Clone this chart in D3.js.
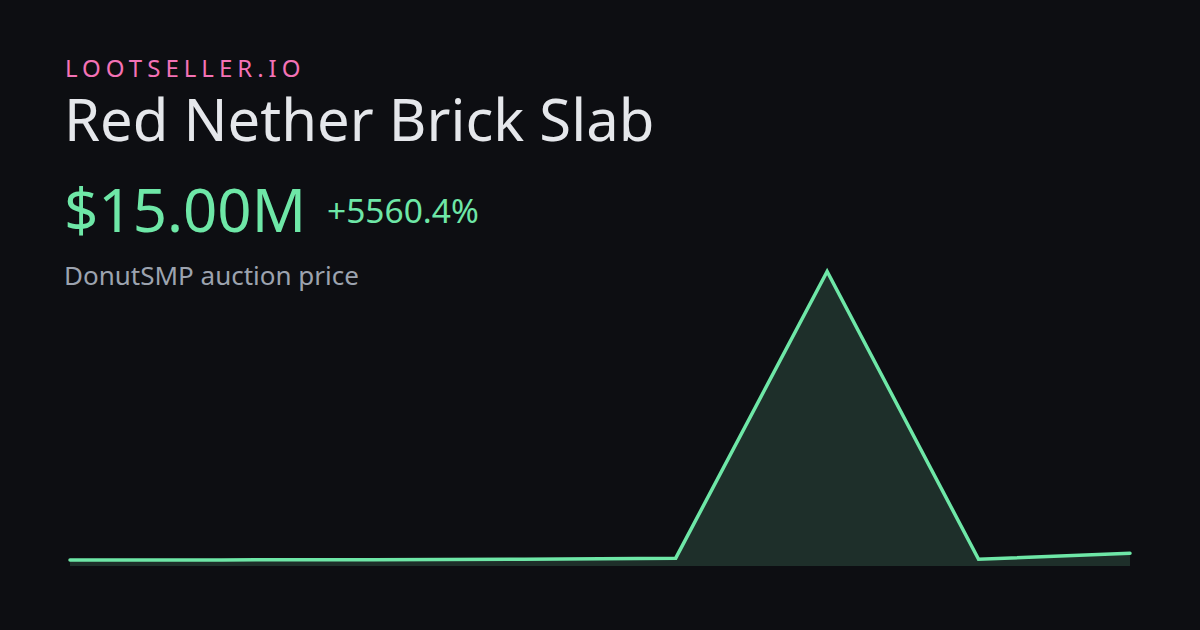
<!DOCTYPE html>
<html><head><meta charset="utf-8">
<script src="https://cdn.jsdelivr.net/npm/d3@7"></script>
<style>
html,body{margin:0;padding:0;background:#0d0e12;}
svg{display:block;}
</style></head>
<body>
<svg id="chart" width="1200" height="630"></svg>
<script>
const brand = "LOOTSELLER.IO";
const itemName = "Red Nether Brick Slab";
const priceLabel = "$15.00M";
const changeLabel = "+5560.4%";
const subtitle = "DonutSMP auction price";
const pointIndex = [0, 1, 2, 3, 4, 5, 6, 7];
const prices = [0.31, 0.31, 0.32, 0.34, 0.40, 15.0, 0.34, 0.65]; // millions

const svg = d3.select("#chart");
svg.append("rect").attr("width", 1200).attr("height", 630).attr("fill", "#0d0e12");

const font = "'Noto Sans', 'Open Sans', sans-serif";
svg.append("text").attr("x", 65).attr("y", 77).text(brand)
  .attr("font-family", font).attr("font-size", 24).attr("letter-spacing", 5).attr("fill", "#f472b6");
svg.append("text").attr("x", 64).attr("y", 141).text(itemName)
  .attr("font-family", font).attr("font-size", 58).attr("fill", "#e5e7eb");
svg.append("text").attr("x", 64).attr("y", 232).text(priceLabel)
  .attr("font-family", font).attr("font-size", 60).attr("fill", "#6ee7a7");
svg.append("text").attr("x", 327).attr("y", 223).text(changeLabel)
  .attr("font-family", font).attr("font-size", 33.5).attr("fill", "#6ee7a7");
svg.append("text").attr("x", 64).attr("y", 285).text(subtitle)
  .attr("font-family", font).attr("font-size", 26).attr("fill", "#9ca3af");

const x = d3.scalePoint().domain(pointIndex).range([70, 1130]);
const y = d3.scaleLinear().domain([0, d3.max(prices)]).range([566, 271.5]);

const data = pointIndex.map((i) => ({ i, v: prices[i] }));
const area = d3.area().x(d => x(d.i)).y0(566).y1(d => y(d.v));
const line = d3.line().x(d => x(d.i)).y(d => y(d.v));

svg.append("path").datum(data).attr("d", area).attr("fill", "#1e2f2a");
svg.append("path").datum(data).attr("d", line).attr("fill", "none")
  .attr("stroke", "#6ee7a7").attr("stroke-width", 3.5)
  .attr("stroke-linejoin", "miter").attr("stroke-linecap", "round");
</script>
</body></html>
